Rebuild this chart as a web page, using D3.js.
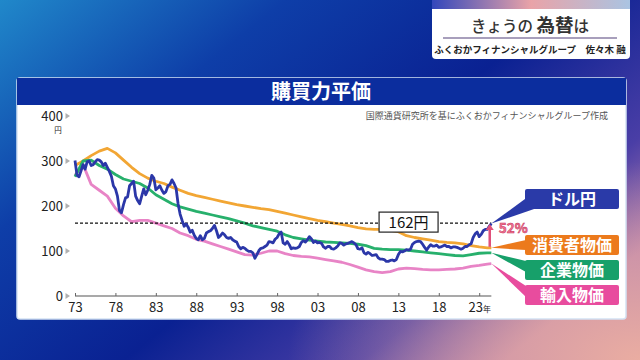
<!DOCTYPE html>
<html>
<head>
<meta charset="utf-8">
<title>購買力平価</title>
<script src="https://cdn.jsdelivr.net/npm/d3@7"></script>
<style>
  body { margin:0; background:#0b2592; }
  svg { display:block; font-family:"Noto Sans CJK JP","Noto Sans",sans-serif; }
</style>
</head>
<body>
<svg id="chart" width="640" height="360"></svg>
<script>
// USD/JPY, quarterly from 1973 Q1 (last point = mid 2024)
var usdStart = 1973;
var usdJpy = [
  301,268,265,278, 292,282,298,300, 290,292,298,303, 302,298,290,295,
  286,277,266,245, 238,222,190,185, 203,218,220,245, 250,255,222,212,
  205,222,238,225, 235,248,268,262, 236,240,245,235, 228,232,245,248,
  258,250,240,205, 182,168,155,160, 153,142,146,135, 128,125,134,125,
  128,140,143,145, 150,157,145,130, 134,140,136,130, 128,130,125,122,
  120,110,105,108, 106,102,99,99,   96,84,92,101,   106,107,110,113,
  121,120,118,126, 130,138,142,118, 115,121,114,105, 107,106,107,110,
  119,123,120,125, 132,127,119,122, 118,119,117,109, 106,110,110,105,
  104,107,111,118, 117,113,116,117, 119,121,118,114, 105,104,107,96,
  93,97,94,90,     91,92,85,82,     82,81,77,77,     79,80,78,81,
  92,99,98,100,    103,102,104,115, 119,121,122,121, 115,108,102,109,
  114,111,111,113, 108,109,111,113, 110,110,107,109, 109,108,106,104,
  106,110,110,114, 116,130,138,142, 132,137,145,148, 148,155,161
];

// purchasing power parity lines, one value per year 1973..2024 plus mid 2024
var pppYears = d3.range(1973, 2025).concat([2024.5]);
var cpiPpp = [290,300,312,322,328,318,302,286,272,262,255,250,242,235,228,223,219,215,211,207,
  203,200,197,194,192,188,184,180,176,172,168,165,162,159,156,152,149,148,148,146,
  143,134,130,127,124,121,119,118,116,112,109,107,107];
var ppiPpp = [265,300,302,290,282,270,260,255,250,240,225,215,205,198,193,188,184,180,176,172,
  167,162,156,152,148,144,136,130,127,124,122,120,119,118,117,115,112,106,104,103,
  103,102,100,98,96,94,92,90,89,92,95,96,96];
var impPpp = [268,292,248,235,222,195,178,165,168,168,162,156,150,140,134,126,122,116,110,104,
  98,92,91,95,100,100,94,90,88,87,84,81,78,75,70,64,58,54,52,54,
  60,62,61,59,58,58,59,60,62,66,68,71,72];

var yTicks = [0, 100, 200, 300, 400];
var xTicks = [1973, 1978, 1983, 1988, 1993, 1998, 2003, 2008, 2013, 2018, 2023];
var nowRate = 162;
var gapLabel = "52%";

var legendItems = [
  {name: "ドル円", color: "#2a3aa8", value: 161, top: 189},
  {name: "消費者物価", color: "#ec7a1c", value: 107, top: 235},
  {name: "企業物価", color: "#17a06a", value: 96, top: 260},
  {name: "輸入物価", color: "#e84c9e", value: 72, top: 285}
];

var svg = d3.select("#chart");
var defs = svg.append("defs");

// background
var bg = defs.append("linearGradient").attr("id", "bg")
  .attr("x1", 0).attr("y1", 0).attr("x2", 1).attr("y2", 0.7);
[["0", "#2088ca"], ["0.3", "#0e3ea8"], ["0.6", "#0a2192"], ["0.85", "#4a3ea6"], ["1", "#b57fae"]]
  .forEach(function(s) { bg.append("stop").attr("offset", s[0]).attr("stop-color", s[1]); });
var glow = defs.append("radialGradient").attr("id", "glow")
  .attr("cx", 1).attr("cy", 1).attr("r", 0.55);
glow.append("stop").attr("offset", 0).attr("stop-color", "#f0b2a0").attr("stop-opacity", 0.9);
glow.append("stop").attr("offset", 1).attr("stop-color", "#f0b2a0").attr("stop-opacity", 0);
svg.append("rect").attr("width", 640).attr("height", 360).attr("fill", "url(#bg)");
svg.append("rect").attr("width", 640).attr("height", 360).attr("fill", "url(#glow)");

// header box
var stripe = defs.append("linearGradient").attr("id", "stripe");
[["0", "#3347bb"], ["0.5", "#e9a3a8"], ["1", "#aac4e2"]]
  .forEach(function(s) { stripe.append("stop").attr("offset", s[0]).attr("stop-color", s[1]); });
svg.append("rect").attr("x", 432).attr("y", 4).attr("width", 198).attr("height", 55).attr("rx", 4).attr("fill", "#fff");
svg.append("rect").attr("x", 432).attr("y", 0).attr("width", 198).attr("height", 9).attr("fill", "url(#stripe)");
var head = svg.append("text").attr("x", 530).attr("y", 32).attr("text-anchor", "middle").attr("fill", "#333");
head.append("tspan").attr("font-size", 15.5).attr("font-weight", 500).text("きょうの ");
head.append("tspan").attr("font-size", 18.5).attr("font-weight", 700).text("為替");
head.append("tspan").attr("font-size", 15.5).attr("font-weight", 500).text("は");
svg.append("line").attr("x1", 443).attr("x2", 617).attr("y1", 38).attr("y2", 38)
  .attr("stroke", "#8b7fa6").attr("stroke-width", 1.5);
svg.append("text").attr("x", 530).attr("y", 53).attr("text-anchor", "middle")
  .attr("font-size", 9.5).attr("font-weight", 700).attr("fill", "#222")
  .text("ふくおかフィナンシャルグループ　佐々木 融");

// card
svg.append("rect").attr("x", 17).attr("y", 78).attr("width", 609).attr("height", 241)
  .attr("rx", 3).attr("fill", "#fff").attr("stroke", "#d4e2f4").attr("stroke-width", 1.5);
svg.append("rect").attr("x", 17).attr("y", 78).attr("width", 609).attr("height", 27).attr("fill", "#0b2d9e");
svg.append("text").attr("x", 321).attr("y", 98.5).attr("text-anchor", "middle")
  .attr("font-size", 20).attr("font-weight", 700).attr("fill", "#fff").text("購買力平価");
svg.append("text").attr("x", 608).attr("y", 119).attr("text-anchor", "end")
  .attr("font-size", 9).attr("fill", "#555").text("国際通貨研究所を基にふくおかフィナンシャルグループ作成");

// scales
var x = d3.scaleLinear().domain([1973, 2025.2]).range([75, 497]);
var y = d3.scaleLinear().domain([0, 400]).range([296, 116]);
var xEnd = x(2024.5);

// y axis
var yAxis = svg.append("g").attr("transform", "translate(73,0)")
  .call(d3.axisLeft(y).tickValues(yTicks).tickSize(0).tickPadding(10));
yAxis.select(".domain").remove();
yAxis.selectAll("text").attr("font-size", 13).attr("fill", "#222")
  .attr("font-family", "'Noto Sans CJK JP', sans-serif");
svg.selectAll(".ymark").data(yTicks).enter().append("path")
  .attr("d", function(d) { return "M65.5," + (y(d) - 3) + "L70," + y(d) + "L65.5," + (y(d) + 3) + "Z"; })
  .attr("fill", "#b0b0b0");
svg.append("text").attr("x", 58).attr("y", y(400) + 17).attr("text-anchor", "middle")
  .attr("font-size", 7.5).attr("fill", "#222").text("円");

// x axis
var xAxis = svg.append("g").attr("transform", "translate(0," + y(0) + ")")
  .call(d3.axisBottom(x).tickValues(xTicks).tickSizeInner(-3).tickSizeOuter(0).tickPadding(7)
    .tickFormat(function(d) { return String(d).slice(2); }));
xAxis.select(".domain").attr("stroke", "#555").attr("stroke-width", 1.2)
  .attr("d", "M" + x(1973) + ",0H" + xEnd);
xAxis.selectAll(".tick line").attr("stroke", "#666");
xAxis.selectAll("text").attr("font-size", 13).attr("fill", "#222")
  .attr("font-family", "'Noto Sans CJK JP', sans-serif");
xAxis.selectAll(".tick").filter(function(d) { return d === 2023; }).select("text")
  .append("tspan").attr("font-size", 8).text("年");

// series
var line = d3.line().x(function(d) { return x(d[0]); }).y(function(d) { return y(d[1]); });
var usdPts = usdJpy.map(function(v, i) { return [usdStart + i / 4, v]; });
function ppp(vals) { return vals.map(function(v, i) { return [pppYears[i], v]; }); }

[[impPpp, "#e884c6"], [cpiPpp, "#f2a634"], [ppiPpp, "#27b06c"]].forEach(function(s) {
  svg.append("path").datum(ppp(s[0])).attr("d", line).attr("fill", "none")
    .attr("stroke", s[1]).attr("stroke-width", 2.8).attr("stroke-linejoin", "round");
});

// 162 reference
svg.append("line").attr("x1", x(1973)).attr("x2", xEnd).attr("y1", y(nowRate)).attr("y2", y(nowRate))
  .attr("stroke", "#111").attr("stroke-width", 1.2).attr("stroke-dasharray", "3,2");

svg.append("path").datum(usdPts).attr("d", line).attr("fill", "none")
  .attr("stroke", "#2b37a8").attr("stroke-width", 2.8).attr("stroke-linejoin", "round");

var boxX = x(2014.2);
svg.append("rect").attr("x", boxX - 29).attr("y", y(nowRate) - 11).attr("width", 59).attr("height", 20)
  .attr("fill", "#fff").attr("stroke", "#222").attr("stroke-width", 1.2);
svg.append("text").attr("x", boxX + 0.5).attr("y", y(nowRate) + 5).attr("text-anchor", "middle")
  .attr("font-size", 15).attr("fill", "#111").text(nowRate + "円");

// 52% arrow
var ax = x(2024.3);
svg.append("line").attr("x1", ax).attr("x2", ax).attr("y1", y(cpiPpp[cpiPpp.length - 1]) - 1).attr("y2", y(nowRate) + 6)
  .attr("stroke", "#e0507a").attr("stroke-width", 2.5);
svg.append("path").attr("d", "M" + (ax - 4) + "," + (y(nowRate) + 7) + "L" + ax + "," + (y(nowRate) + 1) + "L" + (ax + 4) + "," + (y(nowRate) + 7) + "Z")
  .attr("fill", "#e0507a");
svg.append("text").attr("x", ax + 9).attr("y", y(nowRate) + 10).attr("font-size", 13.5).attr("font-weight", 700)
  .attr("fill", "#f27a96").attr("stroke", "#c42a55").attr("stroke-width", 0.5).text(gapLabel);

// legend labels with pointers
var lg = svg.selectAll(".lg").data(legendItems).enter().append("g");
lg.append("path").attr("fill", function(d) { return d.color; })
  .attr("d", function(d, i) {
    var tx = xEnd, ty = y(d.value);
    if (i === 0) return "M" + tx + "," + ty + "L525," + (d.top + 10) + "L537," + (d.top + 19) + "Z";
    if (i === 1) return "M" + tx + "," + ty + "L526," + (d.top + 5) + "L526," + (d.top + 15) + "Z";
    return "M" + tx + "," + ty + "L526," + (d.top + 1) + "L526," + (d.top + 12) + "Z";
  });
lg.append("rect").attr("x", 525).attr("y", function(d) { return d.top; })
  .attr("width", 94).attr("height", 20).attr("rx", 2).attr("fill", function(d) { return d.color; });
lg.append("text").attr("x", 572).attr("y", function(d) { return d.top + 16; })
  .attr("text-anchor", "middle").attr("font-size", 16).attr("font-weight", 700).attr("fill", "#fff")
  .text(function(d) { return d.name; });
</script>
</body>
</html>
